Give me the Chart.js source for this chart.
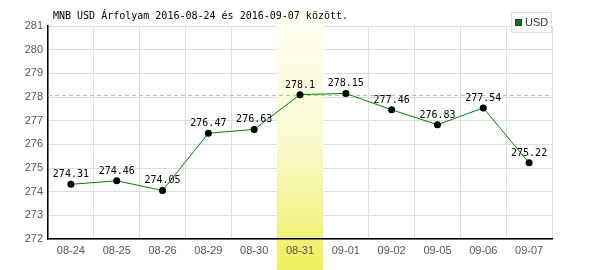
<!DOCTYPE html>
<html>
<head>
<meta charset="utf-8">
<script src="https://cdn.jsdelivr.net/npm/chart.js@4/dist/chart.umd.min.js"></script>
<style>
  html, body { margin: 0; padding: 0; background: #fff; }
</style>
</head>
<body>
<canvas id="chart" width="600" height="270"></canvas>
<script>
var labels = ['08-24','08-25','08-26','08-29','08-30','08-31','09-01','09-02','09-05','09-06','09-07'];
var usd = [274.31, 274.46, 274.05, 276.47, 276.63, 278.1, 278.15, 277.46, 276.83, 277.54, 275.22];
var yTicks = [272, 273, 274, 275, 276, 277, 278, 279, 280, 281];
var highlightIndex = 5;
var refValue = 278.1;
var titleText = 'MNB USD Árfolyam 2016-08-24 és 2016-09-07 között.';
var legendText = 'USD';

function highlightGradient(ctx) {
    var g = ctx.createLinearGradient(0, 10, 0, 270);
    g.addColorStop(0, '#fffff4');
    g.addColorStop(0.5, '#fafad0');
    g.addColorStop(1, '#eeee5c');
    return g;
}

function columnBounds(chart) {
    var x = chart.scales.x;
    var w = (x.right - x.left) / labels.length;
    var l = x.left + w * highlightIndex;
    return [l, w];
}

// highlighted day: full column behind everything, then again over the grid
var highlightPlugin = {
    id: 'highlight',
    beforeDraw: function(chart) {
        var ctx = chart.ctx;
        var b = columnBounds(chart);
        ctx.save();
        ctx.fillStyle = highlightGradient(ctx);
        ctx.fillRect(b[0], 10, b[1], 260);
        ctx.restore();
    },
    beforeDatasetsDraw: function(chart) {
        var ctx = chart.ctx;
        var a = chart.chartArea;
        var b = columnBounds(chart);
        ctx.save();
        ctx.fillStyle = highlightGradient(ctx);
        ctx.fillRect(b[0], a.top, b[1], a.bottom - a.top - 1);

        // dashed reference line
        var y = Math.round(chart.scales.y.getPixelForValue(refValue)) + 0.5;
        ctx.strokeStyle = '#a6cfa6';
        ctx.lineWidth = 1;
        ctx.setLineDash([4, 3]);
        ctx.beginPath();
        ctx.moveTo(a.left, y);
        ctx.lineTo(a.right, y);
        ctx.stroke();
        ctx.restore();
    }
};

var textPlugin = {
    id: 'texts',
    afterDatasetsDraw: function(chart) {
        var ctx = chart.ctx;
        var meta = chart.getDatasetMeta(0);
        ctx.save();
        ctx.font = '10px "DejaVu Sans Mono"';
        ctx.fillStyle = '#000';
        ctx.textAlign = 'center';
        ctx.textBaseline = 'alphabetic';
        meta.data.forEach(function(p, i) {
            ctx.fillText(String(usd[i]), p.x, p.y - 7);
        });

        // title
        ctx.textAlign = 'left';
        ctx.fillText(titleText, 53, 19);

        // legend
        ctx.fillStyle = '#fff';
        ctx.fillRect(511, 12, 41, 20);
        ctx.strokeStyle = '#dddddd';
        ctx.lineWidth = 1;
        ctx.strokeRect(511.5, 12.5, 40, 20);
        ctx.fillStyle = '#008000';
        ctx.fillRect(515, 19, 7, 7);
        ctx.strokeStyle = '#333';
        ctx.strokeRect(515.5, 19.5, 6, 6);
        ctx.fillStyle = '#333';
        ctx.font = '11px "Liberation Sans"';
        ctx.fillText(legendText, 525, 26);
        ctx.restore();
    }
};

var chart = new Chart(document.getElementById('chart'), {
    type: 'line',
    data: {
        labels: labels,
        datasets: [{
            label: legendText,
            data: usd,
            borderColor: '#008000',
            borderWidth: 1,
            pointRadius: 3.5,
            pointBackgroundColor: '#000',
            pointBorderColor: '#000',
            pointBorderWidth: 0,
            tension: 0
        }]
    },
    options: {
        responsive: false,
        devicePixelRatio: 1,
        animation: false,
        layout: { padding: { top: 26, right: 48, left: 0, bottom: 0 } },
        plugins: {
            legend: { display: false },
            title: { display: false },
            tooltip: { enabled: false }
        },
        scales: {
            x: {
                offset: true,
                grid: { offset: true, color: '#dddddd', drawTicks: false },
                border: { color: '#000', width: 1.5 },
                ticks: {
                    color: '#555',
                    font: { family: 'Liberation Sans', size: 11 },
                    padding: 5,
                    maxRotation: 0,
                    autoSkip: false
                },
                afterFit: function(s) { s.height = 31; }
            },
            y: {
                min: yTicks[0],
                max: yTicks[yTicks.length - 1],
                afterBuildTicks: function(s) {
                    s.ticks = yTicks.map(function(v) { return { value: v }; });
                },
                grid: { color: '#dddddd', drawTicks: false },
                border: { color: '#000', width: 1.5 },
                ticks: {
                    color: '#555',
                    font: { family: 'Liberation Sans', size: 11 },
                    padding: 5
                },
                afterFit: function(s) { s.width = 48; }
            }
        }
    },
    plugins: [highlightPlugin, textPlugin]
});
</script>
</body>
</html>
